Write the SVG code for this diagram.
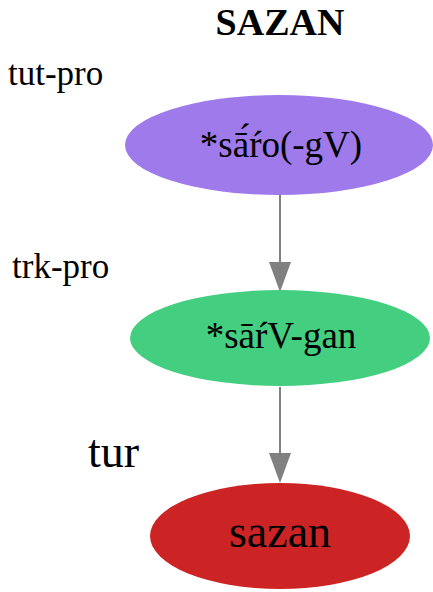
<svg xmlns="http://www.w3.org/2000/svg" width="433" height="592" viewBox="0 0 433 592" font-family="'Liberation Serif', 'Times New Roman', serif">
<style>
.lbl{font-size:35px}
.node{font-size:37px;text-anchor:middle}
.edge{stroke:#808080;stroke-width:2;fill:none}
</style>
<defs>
<marker id="ah" markerUnits="userSpaceOnUse" markerWidth="30" markerHeight="22" refX="0" refY="11" orient="auto" viewBox="0 0 30 22">
<path d="M0,0 L30,11 L0,22 Z" fill="#808080"/>
</marker>
</defs>
<rect width="433" height="592" fill="#fff"/>
<text x="280" y="35" font-family="Liberation Serif, serif" font-size="38" font-weight="bold" text-anchor="middle">SAZAN</text>
<text class="lbl" x="8" y="85" font-family="Liberation Serif, serif">tut-pro</text>
<text class="lbl" x="12" y="278" font-family="Liberation Serif, serif">trk-pro</text>
<text x="88" y="467" font-family="Liberation Serif, serif" font-size="46">tur</text>
<g id="connectors">
<path class="edge" d="M280,195 L280,262" marker-end="url(#ah)"/>
<path class="edge" d="M280,387 L280,453" marker-end="url(#ah)"/>
</g>
<g id="node-tut">
<ellipse cx="279" cy="145" rx="154" ry="50" fill="#9f7aea"/>
<text class="node" x="281" y="157" font-family="Liberation Serif, serif">*sā́ŕo(-gV)</text>
</g>
<g id="node-trk">
<ellipse cx="280" cy="338" rx="150" ry="48" fill="#44ce80"/>
<text class="node" x="281" y="348" font-family="Liberation Serif, serif">*sāŕV-gan</text>
</g>
<g id="node-tur">
<ellipse cx="280" cy="536" rx="130" ry="53" fill="#cc2424"/>
<text x="280" y="547" font-family="Liberation Serif, serif" font-size="46" text-anchor="middle">sazan</text>
</g>
</svg>
